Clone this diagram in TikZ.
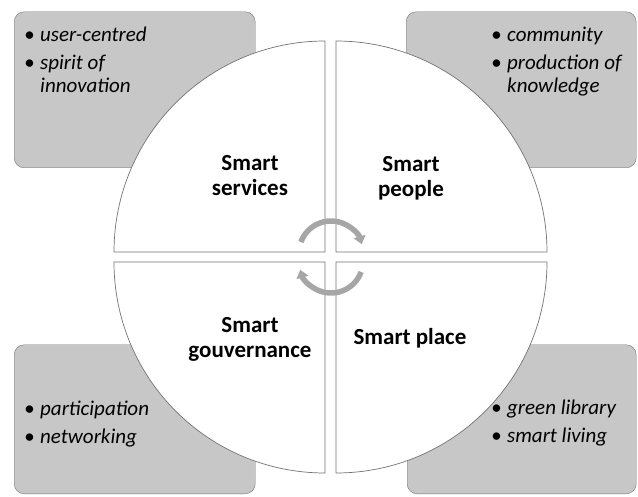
\documentclass[tikz,border=0pt]{standalone}
\usepackage{fontspec}
\setmainfont{Carlito}
\usetikzlibrary{arrows.meta}

\newcommand{\itm}{\makebox[16pt][l]{\textbullet}}
\newcommand{\ind}{\hspace*{16pt}}

\begin{document}
\begin{tikzpicture}[x=1pt, y=1pt,
	infobox/.style={draw=black!55, fill=black!22, rounded corners=10pt, inner sep=0pt, anchor=south west},
	quadrant/.style={draw=black!55, fill=white, line width=0.7pt},
	itemtext/.style={font=\fontsize{21}{23}\selectfont\itshape, align=left, inner sep=0pt, anchor=north west},
	labeltext/.style={font=\fontsize{23}{25}\selectfont\bfseries, align=center, inner sep=0pt},
	cyclearrow/.style={draw=black!35, line width=5.5pt, -{Triangle[length=8pt, width=12pt]}}]
	{
		\def\rad{211}
		\useasboundingbox (0,0) rectangle (638,496);

		% grey boxes behind the circle
		\node[infobox, minimum width=241, minimum height=156] (boxsrv) at (14,328) {};
		\node[infobox, minimum width=230, minimum height=156] (boxppl) at (406,328) {};
		\node[infobox, minimum width=241, minimum height=149] (boxgov) at (14,2) {};
		\node[infobox, minimum width=229, minimum height=149] (boxplc) at (407,2) {};

		% four quarters of the circle
		\foreach \cx/\cy/\a in {325/244/90, 336/244/0, 325/234/180, 336/234/270}
		{
			\draw[quadrant] (\cx,\cy) -- ++(\a:\rad) arc[start angle=\a, delta angle=90, radius=\rad] -- cycle;
		}

		\node[itemtext] (listsrv) at (24,469) {\itm user-centred\\[5pt] \itm spirit of\\ \ind innovation};
		\node[itemtext] (listppl) at (491,469) {\itm community\\[5pt] \itm production of\\ \ind knowledge};
		\node[itemtext] (listgov) at (24,95) {\itm participation\\[5pt] \itm networking};
		\node[itemtext] (listplc) at (491,96) {\itm green library\\[5pt] \itm smart living};

		\node[labeltext] (srv) at (250,320) {Smart\\services};
		\node[labeltext] (ppl) at (411,318) {Smart\\people};
		\node[labeltext] (gov) at (250,157) {Smart\\gouvernance};
		\node[labeltext] (plc) at (410,158) {Smart place};

		% cycle arrows in the middle
		\draw[cyclearrow] ([shift={(160:32)}]331,243) arc[start angle=160, end angle=16, radius=32];
		\draw[cyclearrow] ([shift={(-20:32)}]331,235) arc[start angle=-20, end angle=-164, radius=32];
	}
\end{tikzpicture}
\end{document}
